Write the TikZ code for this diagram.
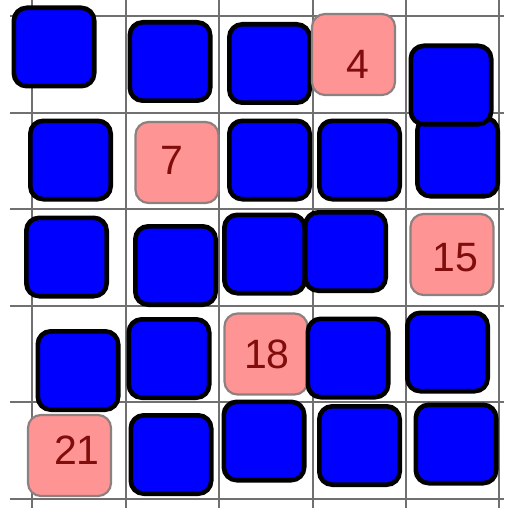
\documentclass[tikz,border=0pt]{standalone}
\usepackage{fontspec}
\setmainfont{Liberation Sans}
\usepackage{tikz}
\usetikzlibrary{calc}
\definecolor{tblue}{HTML}{0000FF}
\definecolor{tpink}{HTML}{FF9494}
\definecolor{tpinkd}{HTML}{8F8080}
\definecolor{tnum}{HTML}{800C0C}
\definecolor{tgrid}{HTML}{707070}
\tikzset{
  % blue tile with a heavy black rim
  btile/.style = {rectangle, rounded corners=6.5pt, draw=black, fill=tblue, line width=2.3pt,
                  minimum width=40.2pt, minimum height=39.2pt, inner sep=0pt},
  % numbered pink tile with a soft grey rim
  ptile/.style = {rectangle, rounded corners=6.5pt, draw=tpinkd, fill=tpink, line width=1.1pt,
                  minimum width=41.5pt, minimum height=40.5pt, inner sep=0pt},
  num/.style   = {text=tnum, font=\fontsize{20.5}{24}\selectfont, inner sep=0pt},
  gline/.style = {tgrid, line width=0.6pt},
}
\begin{document}
\begin{tikzpicture}[x=0.5pt,y=-0.5pt]
\useasboundingbox (0,0) rectangle (504,508);
\fill[white] (0,0) rectangle (504,508);
% grid
\foreach \gx in {32,126,219,313,406,499} \draw[gline] (\gx,0) -- (\gx,508);
\foreach \gy in {16,113,209,306,402,499} \draw[gline] (10,\gy) -- (504,\gy);
% row 1 and row 0
\node[btile] (b14) at (457.5,157) {};
\node[btile] (b00) at (54,47) {};
\node[btile] (b01) at (170,61.5) {};
\node[btile] (b02) at (269.5,63.5) {};
\node[ptile] (p03) at (353.5,54.5) {};
\node[btile] (b04) at (451,85) {};
\node[btile] (b10) at (70.5,160) {};
\node[ptile] (p11) at (177,162.5) {};
\node[btile] (b12) at (269.5,160) {};
\node[btile] (b13) at (359.5,160) {};
% row 2
\node[btile] (b20) at (66.5,257) {};
\node[btile] (b21) at (175.5,265.5) {};
\node[btile] (b22) at (264.5,254) {};
\node[btile] (b23) at (345.5,251.5) {};
\node[ptile] (p24) at (452,254.5) {};
% row 3
\node[btile] (b30) at (78,370.5) {};
\node[btile] (b31) at (169,358.5) {};
\node[ptile] (p32) at (266,354) {};
\node[btile] (b33) at (348,358) {};
\node[btile] (b34) at (447.5,352) {};
% row 4
\node[ptile] (p40) at (69.5,455.5) {};
\node[btile] (b41) at (171,454.5) {};
\node[btile] (b42) at (264,441) {};
\node[btile] (b43) at (359.5,445.5) {};
\node[btile] (b44) at (456,444) {};
% numbers
\node[num] (n4)  at ($(p03)+(4.5,9.5)$)  {4};
\node[num] (n7)  at ($(p11)+(-5,-2)$)    {7};
\node[num] (n15) at ($(p24)+(3,3.5)$)    {15};
\node[num] (n18) at ($(p32)+(1,0)$)      {18};
\node[num] (n21) at ($(p40)+(7.5,-5)$)   {21};
\end{tikzpicture}
\end{document}
